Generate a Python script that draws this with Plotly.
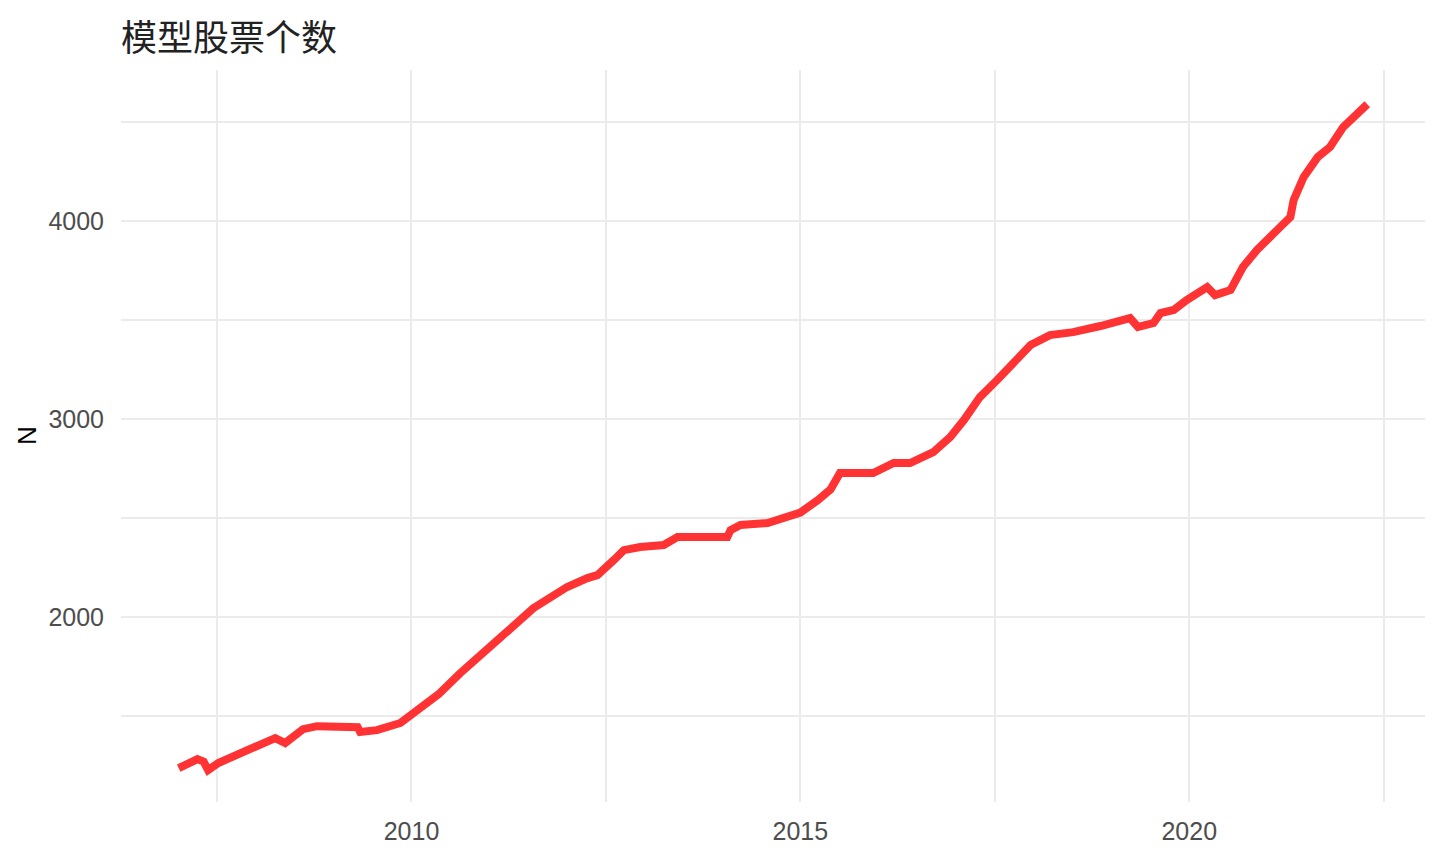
import plotly.graph_objects as go

dates = [
    "2007-01-04", "2007-02-15", "2007-04-02", "2007-05-01", "2007-05-22", "2007-07-09",
    "2007-11-02", "2008-01-22", "2008-04-01", "2008-05-18", "2008-08-10", "2008-10-15",
    "2009-04-23", "2009-05-05", "2009-07-23", "2009-11-10", "2010-01-12", "2010-05-08",
    "2010-08-18", "2010-09-20", "2011-02-20", "2011-07-27", "2011-10-16", "2012-01-02",
    "2012-04-06", "2012-05-23", "2012-08-08", "2012-09-24", "2012-12-10", "2013-03-30",
    "2013-06-03", "2014-01-23", "2014-02-07", "2014-03-26", "2014-07-31", "2014-10-12",
    "2015-01-01", "2015-03-23", "2015-05-23", "2015-07-06", "2015-12-09", "2016-03-14",
    "2016-05-30", "2016-09-16", "2016-12-05", "2017-02-07", "2017-04-23", "2017-07-13",
    "2017-09-27", "2017-12-17", "2018-03-18", "2018-07-05", "2018-11-10", "2019-03-29",
    "2019-05-05", "2019-07-17", "2019-08-19", "2019-10-20", "2019-12-20", "2020-03-25",
    "2020-05-01", "2020-07-13", "2020-09-09", "2020-11-14", "2021-02-17", "2021-04-20",
    "2021-05-05", "2021-06-21", "2021-08-26", "2021-10-23", "2021-12-24", "2022-02-28",
    "2022-04-16",
]
n_stocks = [
    1237, 1262, 1283, 1270, 1227, 1263,
    1318, 1354, 1389, 1364, 1434, 1449,
    1444, 1420, 1429, 1465, 1515, 1610,
    1717, 1747, 1894, 2045, 2101, 2152,
    2197, 2212, 2288, 2338, 2354, 2364,
    2404, 2404, 2439, 2465, 2475, 2500,
    2528, 2590, 2645, 2727, 2727, 2778,
    2778, 2833, 2909, 2995, 3111, 3197,
    3288, 3374, 3424, 3439, 3470, 3510,
    3465, 3485, 3535, 3551, 3601, 3667,
    3626, 3652, 3768, 3854, 3955, 4020,
    4106, 4222, 4323, 4374, 4475, 4545,
    4590,
]

x_ticks = ["2010-01-01", "2015-01-01", "2020-01-01"]
x_tick_text = ["2010", "2015", "2020"]
x_minor = ["2007-07-02", "2012-07-02", "2017-07-02", "2022-07-02"]
y_ticks = [2000, 3000, 4000]
y_minor = [1500, 2500, 3500, 4500]

fig = go.Figure()
fig.add_trace(go.Scatter(
    x=dates, y=n_stocks, mode="lines",
    line=dict(color="#FF3333", width=8),
    showlegend=False,
))

grid = "#EBEBEB"
fig.update_layout(
    width=1434, height=864,
    paper_bgcolor="white", plot_bgcolor="white",
    margin=dict(l=113, r=17, t=62, b=70),
    font=dict(family="Liberation Sans, Arial, sans-serif", size=25, color="#4D4D4D"),
    xaxis=dict(
        type="date",
        range=["2006-04-08", "2023-01-12"],
        tickvals=x_ticks, ticktext=x_tick_text,
        showgrid=True, gridcolor=grid, gridwidth=2,
        minor=dict(tickvals=x_minor, showgrid=True, gridcolor=grid, gridwidth=1.5),
        zeroline=False, showline=False, ticks="",
        tickfont=dict(size=25, color="#4D4D4D"),
        ticklabelstandoff=12,
    ),
    yaxis=dict(
        range=[1066, 4763],
        tickvals=y_ticks,
        showgrid=True, gridcolor=grid, gridwidth=2,
        minor=dict(tickvals=y_minor, showgrid=True, gridcolor=grid, gridwidth=1.5),
        zeroline=False, showline=False, ticks="",
        tickfont=dict(size=25, color="#4D4D4D"),
        ticklabelstandoff=16,
    ),
    annotations=[
        dict(text="模型股票个数", xref="paper", yref="paper", x=0, y=1,
             xanchor="left", yanchor="bottom", yshift=7, xshift=-2, showarrow=False,
             font=dict(family="Noto Sans CJK SC", size=36, color="#222222")),
        dict(text="N", xref="paper", yref="paper", x=0, y=0.5, xshift=-94,
             textangle=-90, showarrow=False, xanchor="center", yanchor="middle",
             font=dict(family="Liberation Sans, Arial, sans-serif", size=26, color="#000000")),
    ],
)

fig.write_html("out.html")
